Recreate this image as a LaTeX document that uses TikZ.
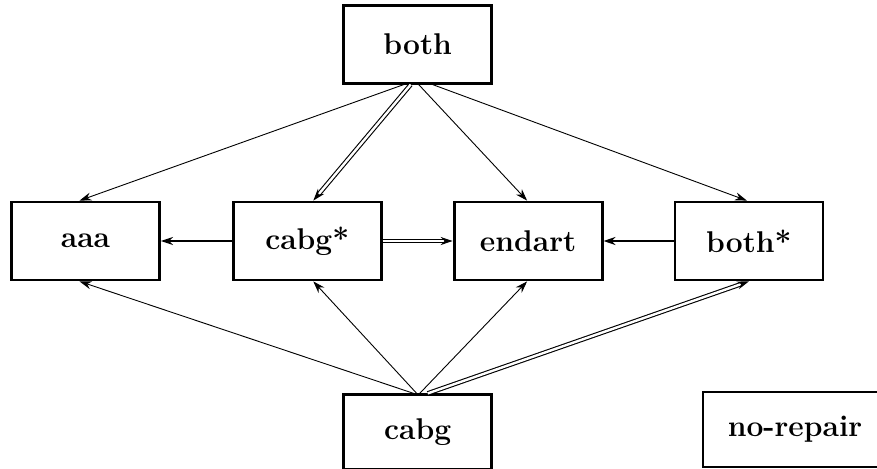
\documentclass[tikz,border=0pt]{standalone}
\usepackage{fontspec}
\usepackage{tikz}
\usetikzlibrary{arrows.meta}
\usetikzlibrary{shapes, positioning, calc}

\begin{document}
\begin{tikzpicture}[x=1pt,y=-1pt,>={Stealth[length=12pt,width=8pt]},
  box/.style={rectangle,draw,line width=2.8pt,minimum width=148pt,minimum height=78pt,
    inner sep=0pt,font=\bfseries\fontsize{30}{36}\selectfont},
  thin edge/.style={->,line width=0.9pt},
  heavy edge/.style={->,line width=2.4pt},
  dbl edge/.style={->,line width=1.1pt,double,double distance=2.4pt}]
  \useasboundingbox (0,0) rectangle (877,468);
  \node[box] (aaa) at (85.5,241) {aaa};
  \node[box, right=71pt of aaa] (cabgs) {cabg*};
  \node[box, right=70pt of cabgs] (endart) {endart};
  \node[box, right=70pt of endart] (boths) {both*};
  \node[box, above=116pt of $(cabgs.north)!0.5!(endart.north)$, anchor=south] (both) {both};
  \node[box, minimum height=75pt, below=112pt of $(cabgs.south)!0.5!(endart.south)$, anchor=north] (cabg) {cabg};
  \node[box, minimum width=210pt, minimum height=75pt] (norep) at (808,429.5) {no-repair\rule{26pt}{0pt}};
  % from the top
  \draw[thin edge] ([xshift=-14pt]both.south) -- ([xshift=-6pt]aaa.north);
  \draw[dbl edge] ([xshift=-7pt]both.south) -- ([xshift=6pt]cabgs.north);
  \draw[thin edge] ([xshift=1pt]both.south) -- ([xshift=-1pt]endart.north);
  \draw[thin edge] ([xshift=15pt]both.south) -- ([xshift=-2pt]boths.north);
  % middle row
  \draw[heavy edge] (cabgs) -- (aaa);
  \draw[dbl edge] (cabgs) -- (endart);
  \draw[heavy edge] (boths) -- (endart);
  % from the bottom
  \draw[thin edge] ([xshift=-4pt]cabg.north) -- ([xshift=-6pt]aaa.south);
  \draw[thin edge] ([xshift=-1pt]cabg.north) -- ([xshift=6pt]cabgs.south);
  \draw[thin edge] ([xshift=2pt]cabg.north) -- ([xshift=-1pt]endart.south);
  \draw[dbl edge] ([xshift=10pt]cabg.north) -- (boths.south);
\end{tikzpicture}
\end{document}
